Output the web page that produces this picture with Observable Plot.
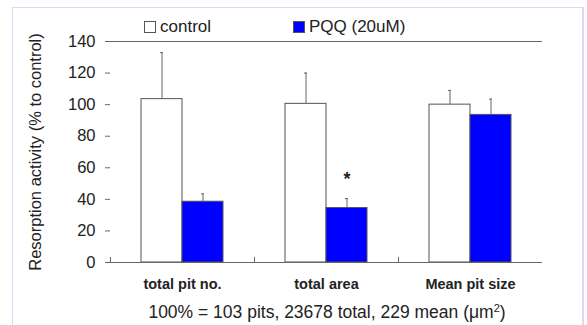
<!DOCTYPE html>
<html><head><meta charset="utf-8">
<script src="https://cdn.jsdelivr.net/npm/d3@7"></script>
<script src="https://cdn.jsdelivr.net/npm/@observablehq/plot@0.6"></script>
<style>
  body{margin:0;background:#fff;font-family:"Liberation Sans",Arial,sans-serif;color:#222;}
  #wrap{position:absolute;left:12px;top:7px;width:569px;height:330px;border:1px solid #d9d9f3;border-right-width:2px;background:#fff;}
  #legend{position:relative;height:27px;font-size:17px;}
  #legend .sw{position:absolute;top:13px;width:10px;height:10px;border:1px solid #555;}
  #legend .lb{position:absolute;top:9px;line-height:20px;}
  #caption{height:30px;line-height:30px;font-size:17.5px;text-align:center;width:510px;margin-left:59px;white-space:nowrap;}
  #caption sup{font-size:11px;line-height:0;vertical-align:6px;}
  #chart svg{display:block;}
</style>
</head><body>
<div id="wrap">
  <div id="legend"></div>
  <div id="chart"></div>
  <div id="caption"></div>
</div>
<script>
const groups = ["total pit no.", "total area", "Mean pit size"];
const series = ["control", "PQQ (20uM)"];
const seriesColors = ["#ffffff", "#0000ff"];
const controlMean = [103.5, 100.5, 100];
const controlErr = [29.5, 19.5, 9];
const pqqMean = [38.5, 34.5, 93.5];
const pqqErr = [5, 6, 10];
const yTicks = [0, 20, 40, 60, 80, 100, 120, 140];
const significance = [{group: "total area", series: "PQQ (20uM)", label: "*"}];
const yLabel = "Resorption activity (% to control)";
const captionMain = "100% = 103 pits, 23678 total, 229 mean (\u03bcm";
const captionSup = "2";
const captionEnd = ")";

const rows = [];
groups.forEach((g, i) => {
  rows.push({group: g, series: series[0], value: controlMean[i], err: controlErr[i]});
  rows.push({group: g, series: series[1], value: pqqMean[i], err: pqqErr[i]});
});
const sigRows = significance.map(s => {
  const r = rows.find(d => d.group === s.group && d.series === s.series);
  return {...s, top: r.value + r.err};
});

// legend
const legend = document.getElementById("legend");
const legendPos = [131, 280];
series.forEach((s, i) => {
  const sw = document.createElement("span");
  sw.className = "sw"; sw.style.left = legendPos[i] + "px"; sw.style.background = seriesColors[i];
  const lb = document.createElement("span");
  lb.className = "lb"; lb.style.left = (legendPos[i] + 16) + "px"; lb.textContent = s;
  legend.append(sw, lb);
});
const cap = document.getElementById("caption");
cap.append(document.createTextNode(captionMain));
const sup = document.createElement("sup"); sup.textContent = captionSup; cap.append(sup);
cap.append(document.createTextNode(captionEnd));

const stroke = "#666";
const chart = Plot.plot({
  width: 569, height: 262,
  marginLeft: 96, marginRight: 39, marginTop: 6, marginBottom: 35,
  style: {fontFamily: "Liberation Sans, Arial, sans-serif", fontSize: "17px", color: "#222", background: "transparent", overflow: "visible"},
  fx: {domain: groups, padding: 0, label: null},
  x: {domain: series, paddingInner: 0, paddingOuter: 0.75, axis: null},
  y: {domain: [0, 140]},
  color: {domain: series, range: seriesColors},
  marks: [
    Plot.barY(rows, {fx: "group", x: "series", y: "value", fill: "series", stroke: "#555", strokeWidth: 1}),
    Plot.ruleX(rows, {fx: "group", x: "series", y1: "value", y2: d => d.value + d.err, stroke: stroke}),
    Plot.tickY(rows, {fx: "group", x: "series", y: d => d.value + d.err, insetLeft: 19, insetRight: 19, stroke: stroke}),
    Plot.text(sigRows, {fx: "group", x: "series", y: "top", text: "label", dy: -19, fontSize: 18, fontWeight: "bold", fill: "#222"}),
    Plot.ruleY([0, 140], {stroke: stroke}),
    Plot.frame({anchor: "left", insetTop: 216, stroke: stroke}),
    Plot.axisY({ticks: yTicks, tickSize: 5, tickPadding: 10, stroke: stroke, line: true, label: yLabel, labelAnchor: "center", labelOffset: 81, labelArrow: "none", fontSize: 16.5}),
    Plot.axisY({anchor: "right", ticks: [], line: true, stroke: stroke, label: null}),
    Plot.axisFx({anchor: "bottom", tickSize: 0, tickPadding: 16, label: null, fontSize: 14.5, fontWeight: "bold"})
  ]
});
document.getElementById("chart").append(chart);
</script>
</body></html>
